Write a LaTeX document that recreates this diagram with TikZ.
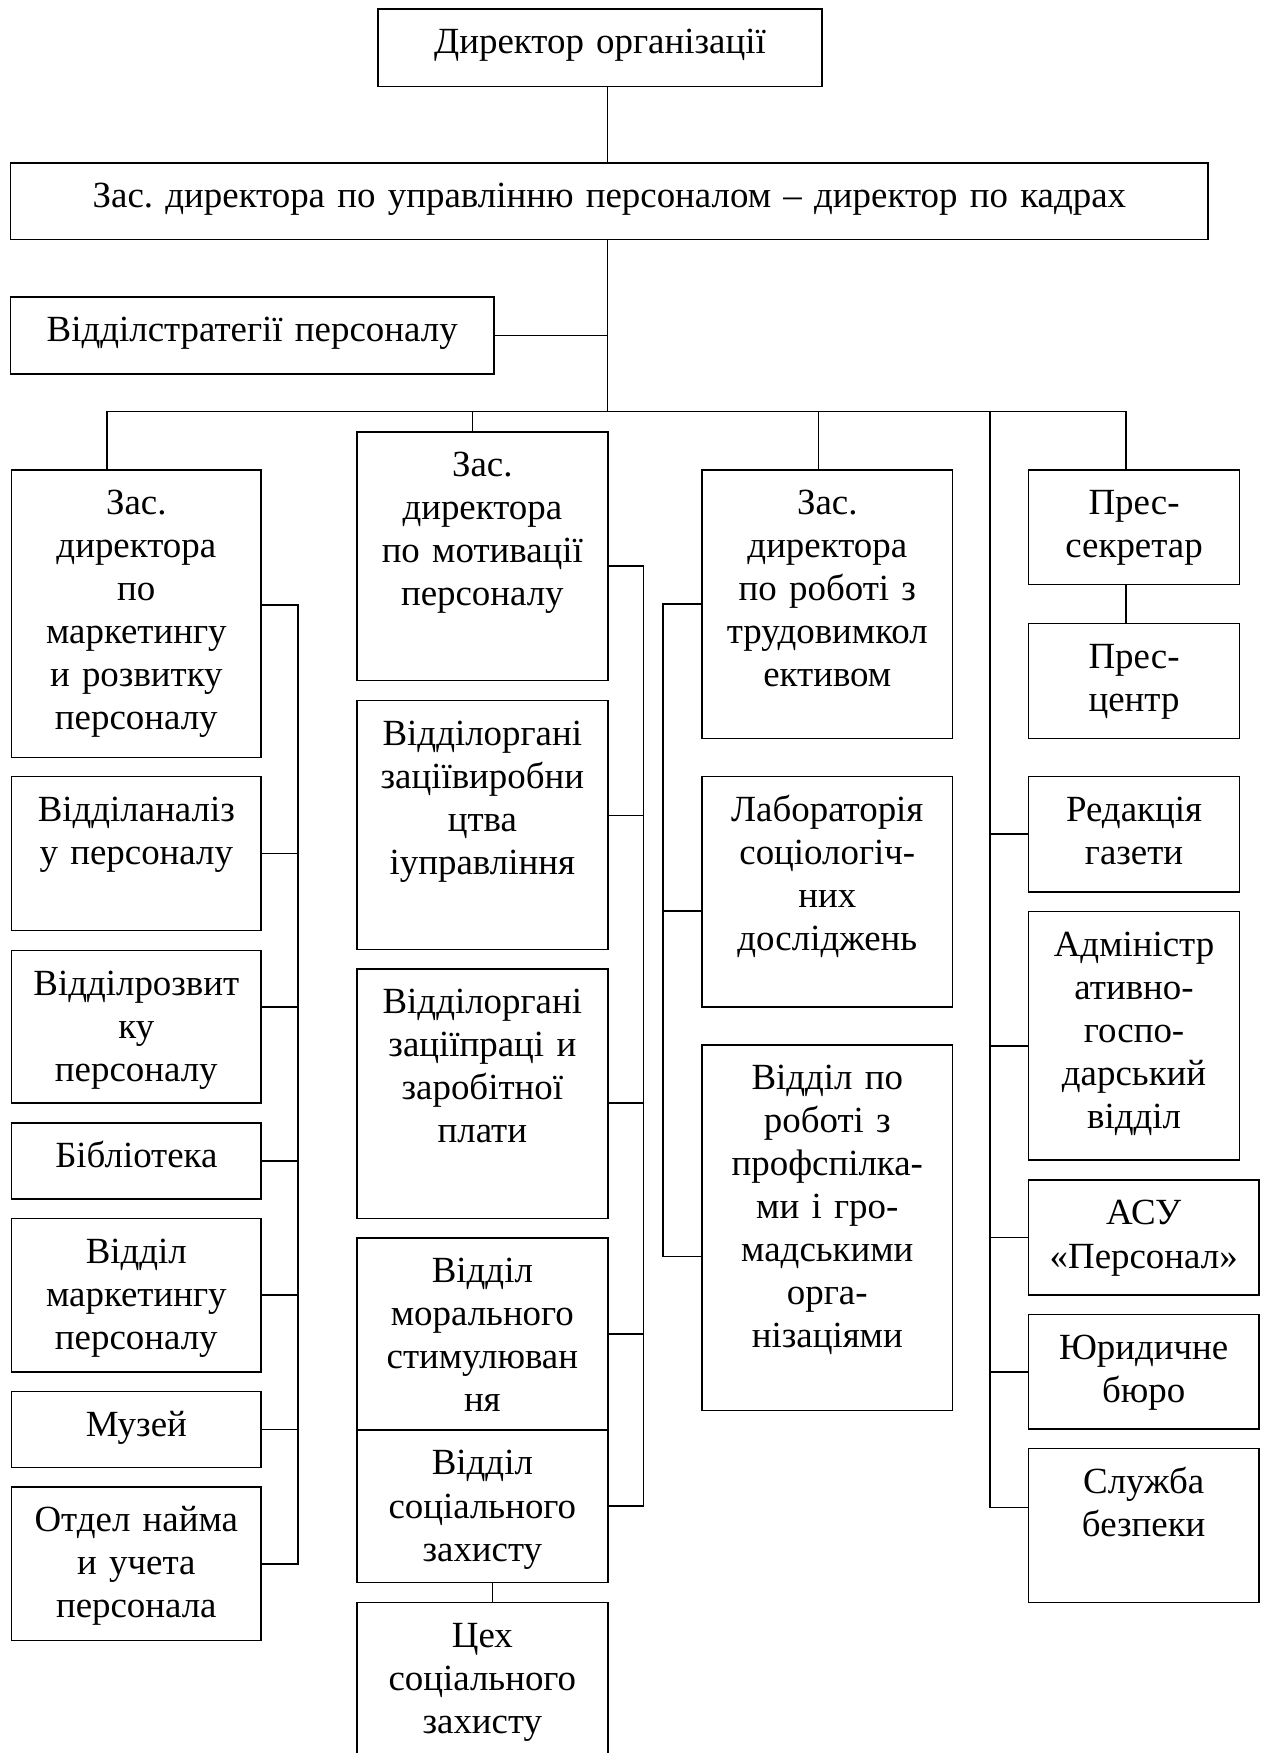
\documentclass[tikz,border=0pt]{standalone}
\usepackage{fontspec}
\setmainfont{Liberation Serif}
\usepackage{tikz}
\usetikzlibrary{positioning}
\frenchspacing
\newcommand{\boxfont}{\fontsize{33}{38.5}\selectfont}

\begin{document}
\begin{tikzpicture}[
    x=1pt, y=-1pt,
    dept/.style={rectangle, draw, line width=1.4pt, anchor=north west, inner xsep=2pt, inner ysep=0pt, align=center, text height=40pt, font=\boxfont},
    colA/.style={text width=219.5pt},
    colB/.style={text width=220.5pt},
    colC/.style={text width=220pt},
    colD/.style={text width=184.7pt},
    colE/.style={text width=202pt},
    link/.style={line width=1.4pt}
]
\useasboundingbox (0,0) rectangle (1132,1568);

\node[dept, text width=393pt, text depth=29pt] (director) at (337.5,7.5) {Директор організації};
\node[dept, text width=1067.3pt, text depth=28.4pt] (hrdeputy) at (8.7,145) {Зас. директора по управлінню персоналом – директор по кадрах};
\node[dept, text width=428.3pt, text depth=28.8pt] (strategy) at (8.7,265) {Відділстратегії персоналу};

\node[dept, colA, text depth=217.5pt] (mktdeputy) at (9.5,419.5) {Зас.\\директора\\по\\маркетингу\\и розвитку\\персоналу};
\node[dept, colA, text depth=97.6pt] (analysis) at (9.5,694) {Відділаналіз\\у персоналу};
\node[dept, colA, text depth=96.4pt] (development) at (9.5,849.6) {Відділрозвит\\ку\\персоналу};
\node[dept, colA, text depth=28.3pt] (library) at (9.5,1003.7) {Бібліотека};
\node[dept, colA, text depth=97.6pt] (mktdept) at (9.5,1089) {Відділ\\маркетингу\\персоналу};
\node[dept, colA, text depth=28.2pt] (museum) at (9.5,1243.8) {Музей};
\node[dept, colA, text depth=97pt] (hiring) at (9.5,1329.5) {Отдел найма\\и учета\\персонала};

\node[dept, colB, text depth=182.5pt] (motivdeputy) at (318.5,385.5) {Зас.\\директора\\по мотивації\\персоналу};
\node[dept, colB, text depth=182.6pt] (production) at (318.5,626) {Відділоргані\\заціївиробни\\цтва\\іуправління};
\node[dept, colB, text depth=183pt] (wages) at (318.5,866) {Відділоргані\\заціїпраці и\\заробітної\\плати};
\node[dept, colB, text depth=132.1pt] (moral) at (318.5,1106.5) {Відділ\\морального\\стимулюван\\ня};
\node[dept, colB, text depth=96pt] (social) at (318.5,1278.6) {Відділ\\соціального\\захисту};
\node[dept, colB, text depth=99.4pt] (socshop) at (318.5,1432.6) {Цех\\соціального\\захисту};

\node[dept, colC, text depth=200.5pt] (labdeputy) at (627.3,419.5) {Зас.\\директора\\по роботі з\\трудовимкол\\ективом};
\node[dept, colC, text depth=166pt] (sociolab) at (627.3,694) {Лабораторія\\соціологіч-\\них\\досліджень};
\node[dept, colC, text depth=287pt] (unions) at (627.3,934) {Відділ по\\роботі з\\профспілка-\\ми і гро-\\мадськими\\орга-\\нізаціями};

\node[dept, colD, text depth=62.5pt] (presssec) at (919.3,419.5) {Прес-\\секретар};
\node[dept, colD, text depth=63pt] (presscentre) at (919.3,557) {Прес-\\центр};
\node[dept, colD, text depth=63pt] (newspaper) at (919.3,694) {Редакція\\газети};
\node[dept, colD, text depth=182.3pt] (admin) at (919.3,814.7) {Адміністр\\ативно-\\госпо-\\дарський\\відділ};
\node[dept, colE, text depth=62.5pt] (asu) at (919.3,1055) {АСУ\\«Персонал»};
\node[dept, colE, text depth=62.6pt] (legal) at (919.3,1175) {Юридичне\\бюро};
\node[dept, colE, text depth=97.5pt] (security) at (919.3,1295) {Служба\\безпеки};

\coordinate (trunk) at (543.5,368);
\coordinate (busL) at (95.5,368);
\coordinate (drop2) at (422.5,368);
\coordinate (drop3) at (732,368);
\coordinate (spine4) at (885.5,368);
\coordinate (busR) at (1007,368);
\coordinate (spine1) at (266.4,0);
\coordinate (spine2) at (575.5,0);
\coordinate (spine3) at (593,0);

\draw[link] (director.south -| trunk) -- (hrdeputy.north -| trunk);
\draw[link] (hrdeputy.south -| trunk) -- (trunk);
\draw[link] (strategy.east) -- (strategy.east -| trunk);
\draw[link] (busL) -- (busR);
\draw[link] (busL) -- (busL |- mktdeputy.north);
\draw[link] (drop2) -- (drop2 |- motivdeputy.north);
\draw[link] (drop3) -- (drop3 |- labdeputy.north);
\draw[link] (busR) -- (busR |- presssec.north);
\draw[link] (presssec.south -| busR) -- (presscentre.north -| busR);

\draw[link] ([yshift=8pt]mktdeputy.east) -- ([yshift=8pt]mktdeputy.east -| spine1) -- (hiring.east -| spine1) -- (hiring.east);
\draw[link] (analysis.east) -- (analysis.east -| spine1);
\draw[link] ([yshift=18pt]development.east) -- ([yshift=18pt]development.east -| spine1);
\draw[link] (library.east) -- (library.east -| spine1);
\draw[link] (mktdept.east) -- (mktdept.east -| spine1);
\draw[link] (museum.east) -- (museum.east -| spine1);

\draw[link] ([yshift=-9pt]motivdeputy.east) -- ([yshift=-9pt]motivdeputy.east -| spine2) -- (social.east -| spine2) -- (social.east);
\draw[link] ([yshift=8.6pt]production.east) -- ([yshift=8.6pt]production.east -| spine2);
\draw[link] ([yshift=-8.5pt]wages.east) -- ([yshift=-8.5pt]wages.east -| spine2);
\draw[link] (moral.east) -- (moral.east -| spine2);
\draw[link] ([xshift=8.9pt]social.south) -- ([xshift=8.9pt]socshop.north);

\draw[link] (labdeputy.west) -- (labdeputy.west -| spine3) -- ([yshift=-25.5pt]unions.west -| spine3) -- ([yshift=-25.5pt]unions.west);
\draw[link] ([yshift=-17pt]sociolab.west) -- ([yshift=-17pt]sociolab.west -| spine3);

\draw[link] (spine4) -- ([yshift=16pt]security.west -| spine4) -- ([yshift=16pt]security.west);
\draw[link] (newspaper.west) -- (newspaper.west -| spine4);
\draw[link] ([yshift=-9pt]admin.west) -- ([yshift=-9pt]admin.west -| spine4);
\draw[link] (asu.west) -- (asu.west -| spine4);
\draw[link] (legal.west) -- (legal.west -| spine4);

\end{tikzpicture}
\end{document}
